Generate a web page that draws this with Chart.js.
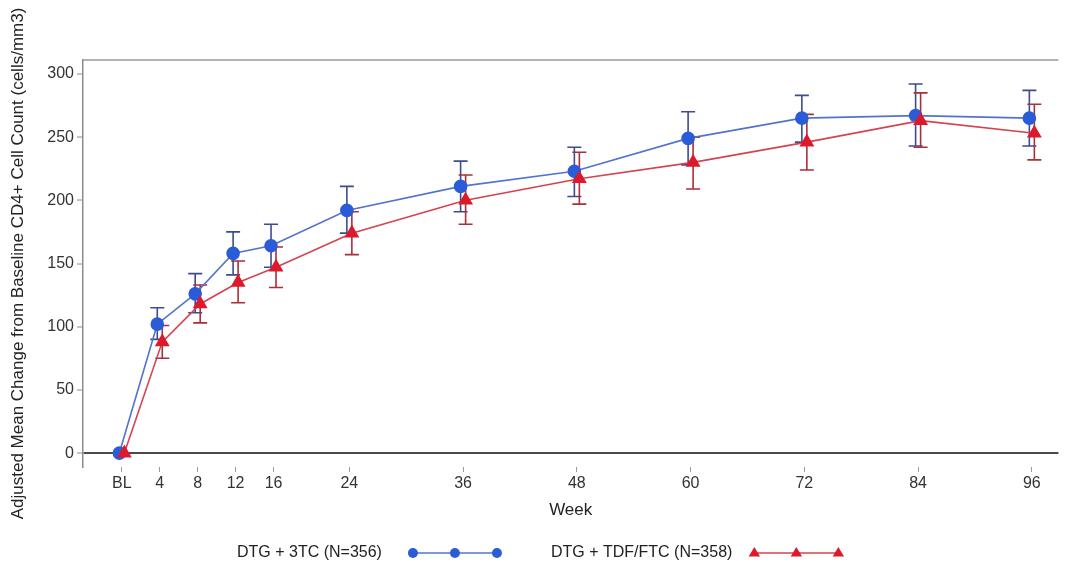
<!DOCTYPE html>
<html>
<head>
<meta charset="utf-8">
<title>Adjusted Mean Change from Baseline CD4+ Cell Count</title>
<script src="https://cdn.jsdelivr.net/npm/chart.js@4.4.1/dist/chart.umd.min.js"></script>
<style>
  html, body { margin: 0; padding: 0; background: #ffffff; }
  #wrap { width: 1067px; height: 568px; position: relative; }
</style>
</head>
<body>
<div id="wrap"><canvas id="cd4"></canvas></div>
<script>
// Study visits (weeks) and their axis labels
const weeks = [0, 4, 8, 12, 16, 24, 36, 48, 60, 72, 84, 96];
const weekLabels = ['BL', '4', '8', '12', '16', '24', '36', '48', '60', '72', '84', '96'];
const yTicks = [0, 50, 100, 150, 200, 250, 300];

// DTG + 3TC: adjusted mean change and 95% CI bounds (cells/mm3)
const dtg3tcMean  = [0, 102, 126, 158, 164, 192, 211, 223, 249, 265, 267, 265];
const dtg3tcLower = [0,  90, 111, 141, 147, 174, 191, 203, 228, 246, 243, 243];
const dtg3tcUpper = [0, 115, 142, 175, 181, 211, 231, 242, 270, 283, 292, 287];

// DTG + TDF/FTC: adjusted mean change and 95% CI bounds (cells/mm3)
const tdfMean  = [0,  88, 118, 135, 147, 174, 200, 217, 230, 246, 263, 253];
const tdfLower = [0,  75, 103, 119, 131, 157, 181, 197, 209, 224, 242, 232];
const tdfUpper = [0, 101, 133, 152, 163, 191, 220, 238, 250, 268, 285, 276];

const FONT = '"Liberation Sans", Arial, sans-serif';

const BLUE = { line: '#5274cf', marker: '#2b5cd8', bar: '#3d4c8e' };
const RED  = { line: '#d4434f', marker: '#dc1a2b', bar: '#a92f39' };

// small horizontal dodge (px) so the two groups do not sit on top of each other
const dodge = [-2.5, 2.5];

const toXY = (means) => weeks.map((w, i) => ({ x: w, y: means[i] }));

const datasets = [
  {
    label: 'DTG + 3TC (N=356)',
    data: toXY(dtg3tcMean),
    lower: dtg3tcLower,
    upper: dtg3tcUpper,
    borderColor: BLUE.line,
    backgroundColor: BLUE.marker,
    pointBackgroundColor: BLUE.marker,
    pointBorderColor: BLUE.marker,
    barColor: BLUE.bar,
    pointStyle: 'circle',
    pointRadius: 6,
    legendRadius: 5,
    borderWidth: 1.6,
    tension: 0,
    order: 1
  },
  {
    label: 'DTG + TDF/FTC (N=358)',
    data: toXY(tdfMean),
    lower: tdfLower,
    upper: tdfUpper,
    borderColor: RED.line,
    backgroundColor: RED.marker,
    pointBackgroundColor: RED.marker,
    pointBorderColor: RED.marker,
    barColor: RED.bar,
    pointStyle: 'triangle',
    pointRadius: 7,
    legendRadius: 6,
    borderWidth: 1.6,
    tension: 0,
    order: 0
  }
];

// shift each group sideways by its dodge amount while it is drawn
const dodgePlugin = {
  id: 'dodge',
  beforeDatasetDraw(chart, args) {
    chart.ctx.save();
    chart.ctx.translate(dodge[args.index] || 0, 0);
  },
  afterDatasetDraw(chart) {
    chart.ctx.restore();
  }
};

// 95% CI whiskers with caps
const errorBarPlugin = {
  id: 'errorBars',
  beforeDatasetsDraw(chart) {
    const { ctx, scales: { x, y } } = chart;
    const cap = 7;
    ctx.save();
    chart.data.datasets.forEach((ds, di) => {
      ctx.strokeStyle = ds.barColor;
      ctx.lineWidth = 1.6;
      weeks.forEach((w, i) => {
        const lo = ds.lower[i], hi = ds.upper[i];
        if (lo === hi) return;
        const px = x.getPixelForValue(w) + dodge[di];
        const pLo = y.getPixelForValue(lo);
        const pHi = y.getPixelForValue(hi);
        ctx.beginPath();
        ctx.moveTo(px, pLo); ctx.lineTo(px, pHi);
        ctx.moveTo(px - cap, pLo); ctx.lineTo(px + cap, pLo);
        ctx.moveTo(px - cap, pHi); ctx.lineTo(px + cap, pHi);
        ctx.stroke();
      });
    });
    ctx.restore();
  }
};

// frame line along the top of the plotting area
const frameTopPlugin = {
  id: 'frameTop',
  afterDraw(chart) {
    const { ctx, chartArea: a } = chart;
    ctx.save();
    ctx.strokeStyle = '#9a9a9a';
    ctx.lineWidth = 1.5;
    ctx.beginPath();
    ctx.moveTo(a.left, a.top);
    ctx.lineTo(a.right, a.top);
    ctx.stroke();
    ctx.restore();
  }
};

// legend row under the axis: label text followed by a line with three markers
const legendRowPlugin = {
  id: 'legendRow',
  afterDraw(chart) {
    const ctx = chart.ctx;
    const rowY = 553;
    const starts = [237, 551];
    const sampleGap = [31, 22];
    const sampleLen = 84;
    ctx.save();
    ctx.font = '16px ' + FONT;
    ctx.textBaseline = 'middle';
    ctx.textAlign = 'left';
    chart.data.datasets.forEach((ds, i) => {
      const tx = starts[i];
      ctx.fillStyle = '#222222';
      ctx.fillText(ds.label, tx, rowY);
      const sx = tx + ctx.measureText(ds.label).width + sampleGap[i];
      ctx.strokeStyle = ds.borderColor;
      ctx.lineWidth = 1.4;
      ctx.beginPath();
      ctx.moveTo(sx, rowY);
      ctx.lineTo(sx + sampleLen, rowY);
      ctx.stroke();
      ctx.fillStyle = ds.pointBackgroundColor;
      for (let k = 0; k < 3; k++) {
        const mx = sx + k * sampleLen / 2;
        const r = ds.legendRadius;
        ctx.beginPath();
        if (ds.pointStyle === 'circle') {
          ctx.arc(mx, rowY, r, 0, Math.PI * 2);
        } else {
          ctx.moveTo(mx, rowY - r);
          ctx.lineTo(mx + r * 0.95, rowY + r * 0.6);
          ctx.lineTo(mx - r * 0.95, rowY + r * 0.6);
          ctx.closePath();
        }
        ctx.fill();
      }
    });
    ctx.restore();
  }
};

new Chart(document.getElementById('cd4'), {
  type: 'line',
  data: { datasets },
  plugins: [dodgePlugin, errorBarPlugin, frameTopPlugin, legendRowPlugin],
  options: {
    responsive: true,
    maintainAspectRatio: false,
    animation: false,
    layout: { padding: { top: 60, right: 5, bottom: 41, left: 0 } },
    plugins: {
      legend: { display: false },
      tooltip: { enabled: false }
    },
    scales: {
      x: {
        type: 'linear',
        min: -4.1,
        max: 98.8,
        afterBuildTicks(scale) {
          scale.ticks = weeks.map(v => ({ value: v }));
        },
        afterFit(scale) { scale.height = 60; },
        ticks: {
          autoSkip: false,
          maxRotation: 0,
          padding: 2,
          color: '#333333',
          font: { family: FONT, size: 16 },
          callback(value) {
            const i = weeks.indexOf(value);
            return i >= 0 ? weekLabels[i] : '';
          }
        },
        grid: {
          drawOnChartArea: false,
          drawTicks: true,
          tickLength: 5,
          tickColor: '#9a9a9a',
          tickWidth: 1
        },
        border: { display: false },
        title: {
          display: true,
          text: 'Week',
          color: '#222222',
          font: { family: FONT, size: 17 },
          padding: { top: 4, bottom: 6 }
        }
      },
      y: {
        type: 'linear',
        min: -11,
        max: 311,
        afterBuildTicks(scale) {
          scale.ticks = yTicks.map(v => ({ value: v }));
        },
        afterFit(scale) { scale.width = 83; },
        ticks: {
          padding: 3,
          color: '#333333',
          font: { family: FONT, size: 16 }
        },
        grid: {
          drawOnChartArea: true,
          drawTicks: true,
          tickLength: 6,
          tickColor: '#8a8a8a',
          tickWidth: 1,
          color: (c) => (c.tick && c.tick.value === 0 ? '#4a4a4a' : 'rgba(0,0,0,0)'),
          lineWidth: (c) => (c.tick && c.tick.value === 0 ? 2 : 0)
        },
        border: { display: true, color: '#8c8c8c', width: 1.5 },
        title: {
          display: true,
          text: 'Adjusted Mean Change from Baseline CD4+ Cell Count (cells/mm3)',
          color: '#222222',
          font: { family: FONT, size: 17 },
          padding: { top: 8, bottom: 0 }
        }
      }
    }
  }
});
</script>
</body>
</html>
